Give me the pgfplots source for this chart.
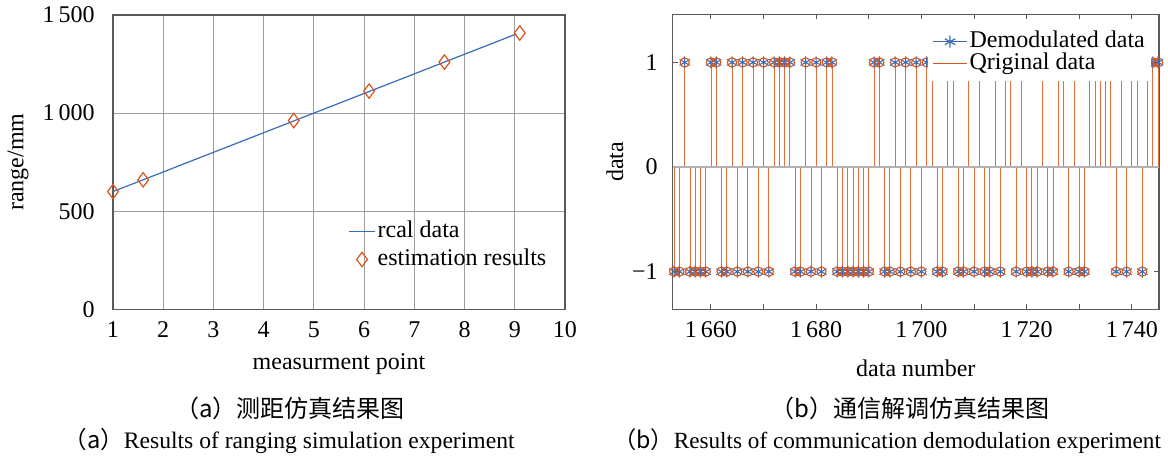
\documentclass[border=0pt]{standalone}
\usepackage{fontspec}
\setmainfont{Liberation Serif}
\newfontfamily\cjk{Noto Sans CJK SC}
\usepackage{pgfplots}
\usepackage{pgfplotstable}
\pgfplotsset{compat=1.18}
\definecolor{mblue}{rgb}{0.22,0.42,0.72}
\definecolor{mred}{rgb}{0.85,0.33,0.10}
\definecolor{axgray}{gray}{0.35}
\definecolor{gridgray}{gray}{0.62}
\pgfplotsset{
  legLineA/.style={legend image code/.code={\draw[##1] (0pt,0pt) -- (13pt,0pt);}},
  legMarkA/.style={legend image code/.code={\draw[##1] plot coordinates {(6.5pt,0pt)};}},
  legLineMarkB/.style={legend image code/.code={\draw[mark repeat=2,mark phase=2,##1] plot coordinates {(0pt,0pt) (8.5pt,0pt) (17pt,0pt)};}},
  legLineB/.style={legend image code/.code={\draw[##1] (0pt,0pt) -- (17pt,0pt);}},
}

\pgfplotstableread{
x y
1653 -1
1654 -1
1655 1
1656 -1
1657 -1
1658 -1
1659 -1
1660 1
1661 1
1662 -1
1663 -1
1664 1
1665 -1
1666 1
1667 -1
1668 1
1669 -1
1670 1
1671 -1
1672 1
1673 1
1674 1
1675 1
1676 -1
1677 -1
1678 1
1679 -1
1680 1
1681 -1
1682 1
1683 1
1684 -1
1685 -1
1686 -1
1687 -1
1688 -1
1689 -1
1690 -1
1691 1
1692 1
1693 -1
1694 -1
1695 1
1696 -1
1697 1
1698 -1
1699 1
1700 -1
1701 1
1702 1
1703 -1
1704 -1
1705 1
1706 1
1707 -1
1708 -1
1709 1
1710 -1
1711 1
1712 -1
1713 -1
1714 1
1715 -1
1716 1
1717 1
1718 -1
1719 1
1720 -1
1721 -1
1722 -1
1723 1
1724 -1
1725 -1
1726 1
1727 1
1728 -1
1729 1
1730 -1
1731 -1
1732 1
1733 1
1734 1
1735 1
1736 1
1737 -1
1738 1
1739 -1
1740 1
1741 1
1742 -1
1743 1
1744 1
1745 1
}\demod

\begin{document}
\fontsize{12}{14}\selectfont
\begin{tikzpicture}[x=1pt,y=1pt]
\useasboundingbox (0,0) rectangle (584,230);

% ---------- left chart ----------
\begin{axis}[
  at={(56.5pt,75.35pt)}, anchor=south west,
  scale only axis, width=226pt, height=147.15pt,
  xmin=1, xmax=10, ymin=0, ymax=1500,
  xtick={1,2,...,10}, xticklabels={1,2,3,4,5,6,7,8,9,10},
  ytick={0,500,1000,1500}, yticklabels={0,500,1\,000,1\,500},
  grid=major, major grid style={draw=gridgray, line width=0.5pt},
  axis line style={draw=axgray, line width=0.6pt},
  major tick length=0pt,
  xticklabel style={yshift=-2pt}, yticklabel style={xshift=-5pt},
  ticklabel style={font=\fontsize{12}{14}\selectfont},
  xlabel={measurment point}, ylabel={range/mm},
  xlabel style={at={([yshift=-27.35pt]axis description cs:0.5,0)}, anchor=center},
  ylabel style={at={([xshift=-47.5pt]axis description cs:0,0.5)}, anchor=center},
  label style={font=\fontsize{12}{14}\selectfont},
  legend style={at={(0.52,0.31)}, anchor=north west, draw=none, fill=none,
    inner sep=0pt, row sep=1pt, font=\fontsize{12}{14}\selectfont,
    nodes={inner sep=1pt, text height=8.5pt, text depth=2.5pt}},
  legend cell align=left,
]
\addplot[mblue, line width=0.6pt, legLineA]
  coordinates {(1,600) (3,800) (5,1000) (7,1200) (9.03,1403)};
\addlegendentry{rcal data}
\addplot[mred, only marks, mark=diamond, mark size=3.6pt, line width=0.6pt, legMarkA]
  coordinates {(1,600) (1.6,660) (4.6,962) (6.1,1112) (7.6,1260) (9.1,1408)};
\addlegendentry{estimation results}
\end{axis}

% ---------- right chart ----------
\begin{axis}[
  at={(336.35pt,75.35pt)}, anchor=south west,
  scale only axis, width=243.15pt, height=147.5pt,
  xmin=1652.72, xmax=1745.17, ymin=-1.36, ymax=1.46,
  xtick={1660,1680,...,1740}, xticklabels={1\,660,1\,680,1\,700,1\,720,1\,740},
  minor xtick={1670,1690,1710,1730},
  ytick={-1,0,1}, yticklabels={−1,0,1},
  tick align=inside, major tick length=2.5pt, minor tick length=2.5pt,
  tick style={draw=axgray, line width=0.5pt},
  axis line style={draw=axgray, line width=0.6pt},
  xticklabel style={yshift=-2pt}, yticklabel style={xshift=-3.3pt},
  ticklabel style={font=\fontsize{12}{14}\selectfont},
  xlabel={data number}, ylabel={data},
  xlabel style={at={([yshift=-29.35pt]axis description cs:0.5,0)}, anchor=center},
  ylabel style={at={([xshift=-28.85pt]axis description cs:0,0.5)}, anchor=center},
  label style={font=\fontsize{12}{14}\selectfont},
  legend style={at={(0.525,0.966)}, anchor=north west, draw=none, fill=white,
    inner sep=2pt, row sep=-2pt, font=\fontsize{12}{14}\selectfont,
    nodes={inner sep=1pt, text height=8.5pt, text depth=2.5pt}},
  legend cell align=left,
]
\addlegendimage{mblue, line width=0.6pt, mark=asterisk, mark size=3pt, legLineMarkB}
\addlegendentry{Demodulated data}
\addlegendimage{mred, line width=0.6pt, legLineB}
\addlegendentry{Qriginal data}
\addplot[mred!85, ycomb, line width=0.4pt, forget plot] table {\demod};
\addplot[gray!60, line width=0.8pt, forget plot] coordinates {(1652.72,0) (1745.17,0)};
\addplot[mblue, only marks, mark=asterisk, mark size=3pt, line width=0.5pt, forget plot] table {\demod};
\addplot[mred, only marks, mark=o, mark size=2.3pt, line width=0.55pt, forget plot] table {\demod};
\end{axis}

% ---------- captions ----------
\node at (145pt,26pt) {\cjk （a）测距仿真结果图};
\node at (144.5pt,9.5pt) {\fontsize{11.8}{14}\selectfont{\cjk （a）}Results of ranging simulation experiment};
\node at (455pt,26pt) {\cjk （b）通信解调仿真结果图};
\node at (443.5pt,9.5pt) {\fontsize{11.6}{14}\selectfont{\cjk （b）}Results of communication demodulation experiment};
\end{tikzpicture}
\end{document}
